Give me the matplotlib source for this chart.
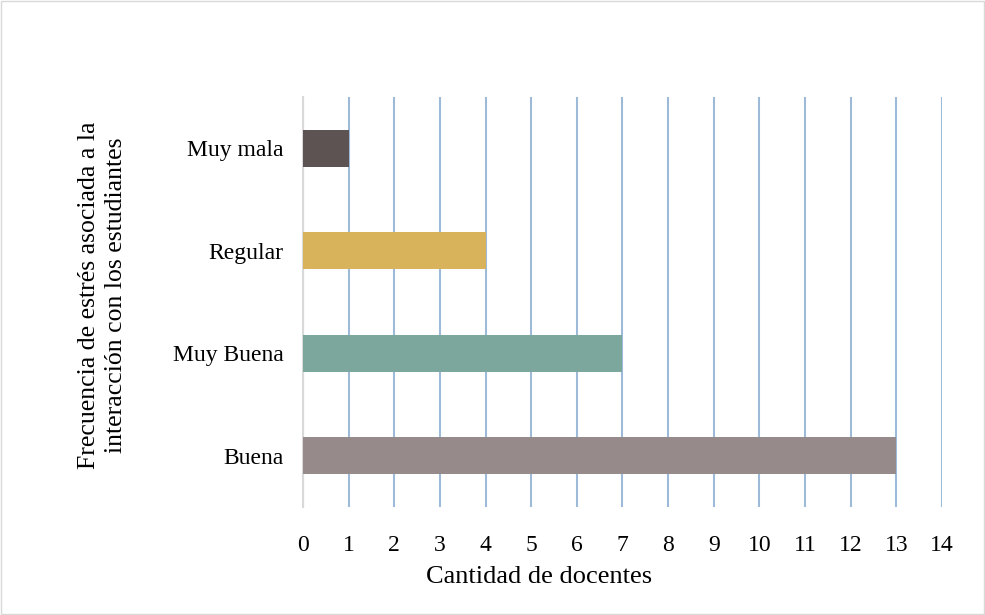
import matplotlib.pyplot as plt
from matplotlib.patches import Rectangle

# data
categorias = ["Buena", "Muy Buena", "Regular", "Muy mala"]
docentes = [13, 7, 4, 1]
colores = ["#968B8A", "#7BA79D", "#D9B25C", "#5E5353"]
ticks_x = list(range(0, 15))

plt.rcParams['font.family'] = ['Liberation Serif', 'DejaVu Serif']

fig = plt.figure(figsize=(9.85, 6.15), dpi=100)
ax = fig.add_axes([0.3076, 0.1756, 0.6487, 0.6667])

ax.barh(categorias, docentes, height=0.36, color=colores, zorder=3)

ax.set_xlim(0, 14)
ax.set_ylim(-0.5, 3.5)
ax.set_xticks(ticks_x)
ax.grid(axis='x', color='#9DBBD9', linewidth=1.5, zorder=0)
ax.tick_params(axis='x', length=0, labelsize=17, pad=20)
ax.tick_params(axis='y', length=0, labelsize=17, pad=14)

for s in ['top', 'right', 'bottom']:
    ax.spines[s].set_visible(False)
ax.spines['left'].set_color('#D9D9D9')
ax.spines['left'].set_linewidth(1.5)

# axis title sits left of centre, as in the original
ax.set_xlabel("Cantidad de docentes", fontsize=19, va='center')
ax.xaxis.set_label_coords(0.369, -0.171)
fig.text(0.104, 0.52, "Frecuencia de estrés asociada a la\ninteracción con los estudiantes",
         rotation=90, ha='center', va='center', fontsize=18.5, linespacing=1.25)

# light border round the chart area
fig.patches.append(Rectangle((0.001, 0.001), 0.998, 0.998, transform=fig.transFigure,
                             fill=False, edgecolor='#D9D9D9', linewidth=1))

fig.savefig("out.png", dpi=100)
